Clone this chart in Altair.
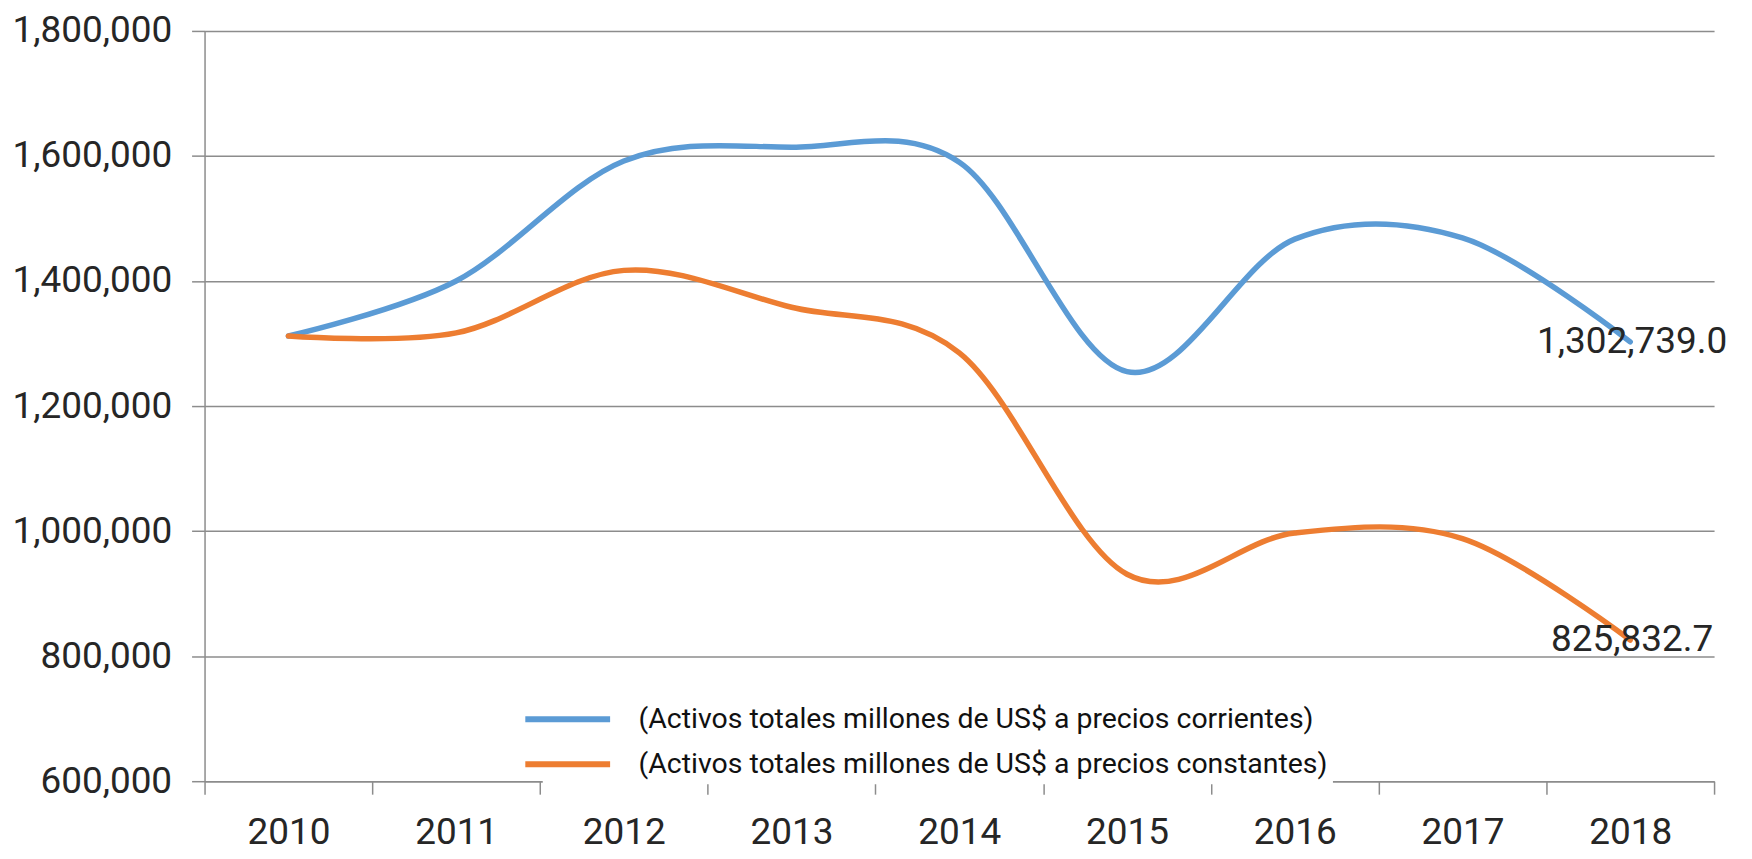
import altair as alt
import pandas as pd

years = ["2010", "2011", "2012", "2013", "2014", "2015", "2016", "2017", "2018"]
corrientes = [1312000, 1400000, 1592000, 1614000, 1590000, 1255000, 1467000, 1469000, 1302739.0]
constantes = [1312000, 1317000, 1417000, 1358000, 1285000, 931000, 997000, 988000, 825832.7]
series_names = [
    "(Activos totales millones de US$ a precios corrientes)",
    "(Activos totales millones de US$ a precios constantes)",
]
colors = ["#5B9BD5", "#ED7D31"]
y_ticks = [600000, 800000, 1000000, 1200000, 1400000, 1600000, 1800000]

rows = []
for i, yr in enumerate(years):
    rows.append({"year": yr, "serie": series_names[0], "valor": corrientes[i]})
    rows.append({"year": yr, "serie": series_names[1], "valor": constantes[i]})
df = pd.DataFrame(rows)

FONT = "Roboto"
GRID = "#8c8c8c"
TXT = "#262626"

x_enc = alt.X(
    "year:N",
    sort=years,
    scale=alt.Scale(type="band", paddingInner=0, paddingOuter=0),
    axis=alt.Axis(
        title=None,
        labelAngle=0,
        tickBand="extent",
        tickSize=13,
        tickColor=GRID,
        tickWidth=1.5,
        domainColor=GRID,
        domainWidth=1.5,
        grid=False,
        labelFont=FONT,
        labelFontSize=37,
        labelColor=TXT,
        labelPadding=20,
        zindex=0,
    ),
)
y_enc = alt.Y(
    "valor:Q",
    scale=alt.Scale(domain=[600000, 1800000], nice=False, zero=False),
    axis=alt.Axis(
        title=None,
        values=y_ticks,
        format=",.0f",
        tickSize=13,
        tickColor=GRID,
        tickWidth=1.5,
        domainColor=GRID,
        domainWidth=1.5,
        grid=True,
        gridColor=GRID,
        gridWidth=1.5,
        labelFont=FONT,
        labelFontSize=37,
        labelColor=TXT,
        labelPadding=20,
        zindex=0,
    ),
)
color_enc = alt.Color(
    "serie:N",
    scale=alt.Scale(domain=series_names, range=colors),
    legend=alt.Legend(
        title=None,
        orient="none",
        legendX=339,
        legendY=665,
        symbolType="M-2.5,0L2.5,0",
        symbolSize=1156,
        symbolStrokeWidth=6,
        labelFont=FONT,
        labelFontSize=28.5,
        labelColor="#111111",
        labelLimit=0,
        labelOffset=51,
        rowPadding=10,
        padding=5,
        fillColor="white",
        zindex=2,
    ),
)

lines = alt.Chart(df).mark_line(
    interpolate="cardinal", strokeWidth=5.5, strokeCap="round"
).encode(x=x_enc, y=y_enc, color=color_enc)

labels = alt.Chart(df).transform_filter(
    alt.datum.year == "2018"
).mark_text(
    font=FONT, fontSize=37, color=TXT, align="center", baseline="middle", dx=2
).encode(x=x_enc, y=y_enc, text=alt.Text("valor:Q", format=",.1f"))

chart = alt.layer(lines, labels).properties(
    width=1513,
    height=752,
    autosize=alt.AutoSizeParams(type="none"),
    padding={"left": 197, "top": 22, "right": 30, "bottom": 76},
).configure_view(stroke=None)

chart.save("out.html", embed_options={"renderer": "svg", "actions": False})
